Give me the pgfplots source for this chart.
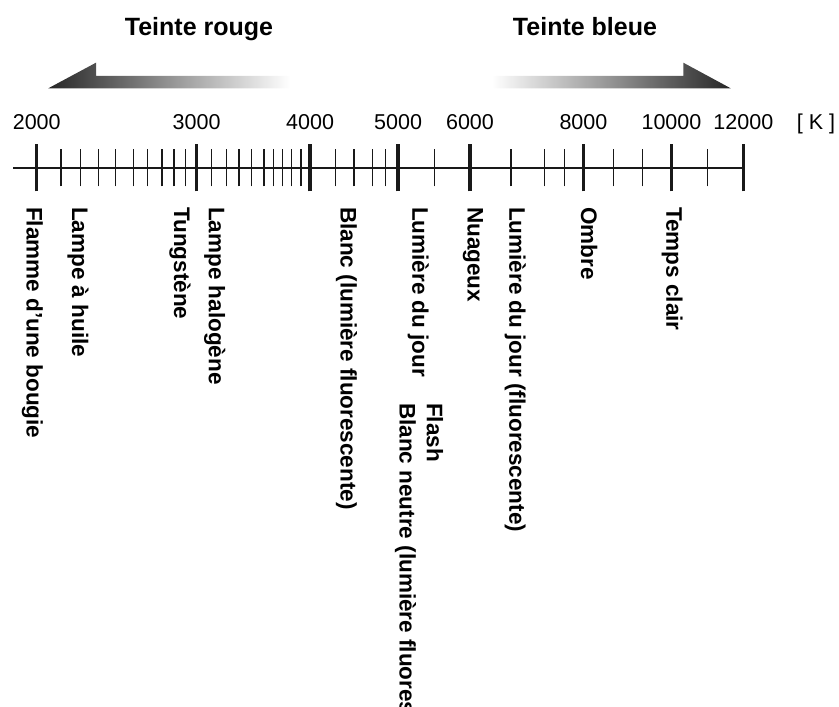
\documentclass[border=0pt]{standalone}
\usepackage{pgfplots}
\pgfplotsset{compat=1.18}
\usepackage{fontspec}
\setmainfont{Liberation Sans}
\newcommand{\lbl}{\fontsize{22.5}{26}\selectfont\bfseries}
\newcommand{\num}{\fontsize{21.5}{25}\selectfont}
\newcommand{\hd}{\fontsize{25}{29}\selectfont\bfseries}
\begin{document}
\begin{tikzpicture}
\useasboundingbox (-13.3pt,0pt) rectangle (825.7pt,707pt);
\begin{axis}[
  at={(0pt,0pt)}, anchor=south west,
  scale only axis, width=730pt, height=707pt,
  xmode=log, xmin=1885, xmax=12000,
  ymin=-539, ymax=168,
  axis x line=middle, axis y line=none,
  every inner x axis line/.append style={-},
  x axis line style={-, line width=2pt, black!90},
  xtick={2000,3000,4000,5000,6000,8000,10000,12000},
  xticklabels={},
  minor xtick={2127,2236,2340,2444,2554,2649,2747,2833,2917,
               3117,3239,3340,3451,3558,3643,3727,3819,3908,
               4267,4470,4681,4839,
               5488,
               6658,7241,7625,
               8632,9293,
               10955},
  tick align=center,
  major tick length=47pt, minor tick length=37pt,
  major tick style={line width=3.5pt, black!90},
  minor tick style={line width=1.2pt, black!90},
  clip=false,
]
% tick numbers
\foreach \t in {2000,3000,4000,5000,6000,8000,10000,12000}{
  \edef\tmp{\noexpand\node[anchor=base, inner sep=0, font=\noexpand\num] at (axis cs:\t,38) {\t};}
  \tmp
}
% light source labels
\node[rotate=-90, anchor=base west, inner sep=0, font=\lbl] at (axis cs:1949,-39) {Flamme d'une bougie};
\node[rotate=-90, anchor=base west, inner sep=0, font=\lbl] at (axis cs:2188,-39) {Lampe à huile};
\node[rotate=-90, anchor=base west, inner sep=0, font=\lbl] at (axis cs:2833,-39) {Tungstène};
\node[rotate=-90, anchor=base west, inner sep=0, font=\lbl] at (axis cs:3094,-39) {Lampe halogène};
\node[rotate=-90, anchor=base west, inner sep=0, font=\lbl] at (axis cs:4323,-39) {Blanc (lumière fluorescente)};
\node[rotate=-90, anchor=base west, inner sep=0, font=\lbl] at (axis cs:5185,-39) {Lumière du jour};
\node[rotate=-90, anchor=base west, inner sep=0, font=\lbl] at (axis cs:5378,-235) {Flash};
\node[rotate=-90, anchor=base west, inner sep=0, font=\lbl] at (axis cs:5018,-235) {Blanc neutre (lumière fluorescente)};
\node[rotate=-90, anchor=base west, inner sep=0, font=\lbl] at (axis cs:5963,-39) {Nuageux};
\node[rotate=-90, anchor=base west, inner sep=0, font=\lbl] at (axis cs:6631,-39) {Lumière du jour (fluorescente)};
\node[rotate=-90, anchor=base west, inner sep=0, font=\lbl] at (axis cs:7956,-39) {Ombre};
\node[rotate=-90, anchor=base west, inner sep=0, font=\lbl] at (axis cs:9875,-39) {Temps clair};
\end{axis}
\begin{scope}[x=1pt,y=-1pt,shift={(-13.3pt,707pt)}]
\shade[left color=black!85, right color=white] (48.3,88.3) -- (96,62.7) -- (96,76) -- (290,76) -- (290,88.3) -- cycle;
\shade[left color=white, right color=black!85] (491.7,76) -- (683.3,76) -- (683.3,62.7) -- (730.7,88.3) -- (491.7,88.3) -- cycle;
\node[anchor=base, inner sep=0, font=\hd] at (199,35.5) {Teinte rouge};
\node[anchor=base, inner sep=0, font=\hd] at (585,35.5) {Teinte bleue};
\node[anchor=base, inner sep=0, font=\num] at (816,130) {[ K ]};
\end{scope}
\end{tikzpicture}
\end{document}
